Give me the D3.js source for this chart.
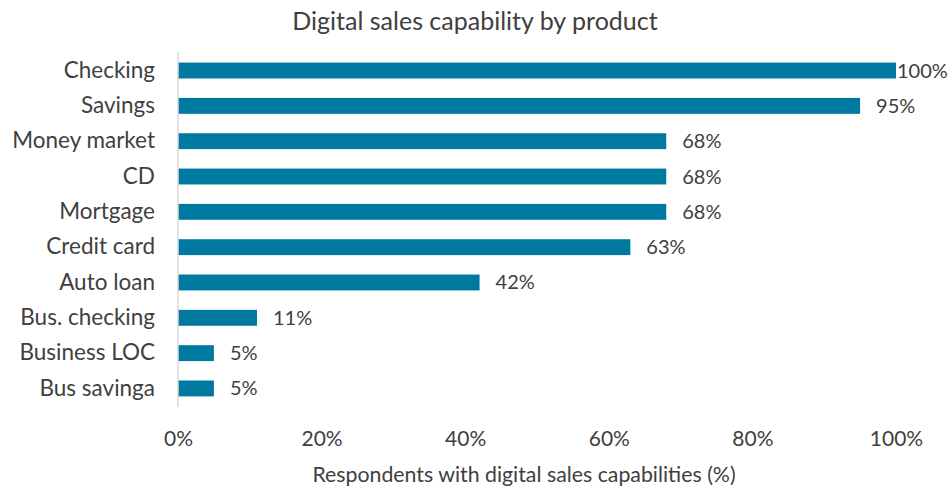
<!DOCTYPE html>
<html>
<head>
<meta charset="utf-8">
<script src="https://cdn.jsdelivr.net/npm/d3@7"></script>
<style>
  html, body { margin: 0; padding: 0; background: #fff; }
  svg { display: block; font-family: Lato, "Open Sans", sans-serif; }
</style>
</head>
<body>
<svg id="chart" width="950" height="489"></svg>
<script>
// Products and share of respondents offering digital sales for each
const categories = ["Checking", "Savings", "Money market", "CD", "Mortgage",
                    "Credit card", "Auto loan", "Bus. checking", "Business LOC", "Bus savinga"];
const values = [100, 95, 68, 68, 68, 63, 42, 11, 5, 5];
const tickValues = [0, 20, 40, 60, 80, 100];

const svg = d3.select("#chart");
const margin = { top: 52, right: 54, bottom: 82, left: 178 };
const width = 950 - margin.left - margin.right;
const height = 489 - margin.top - margin.bottom;

const g = svg.append("g").attr("transform", `translate(${margin.left},${margin.top})`);

const x = d3.scaleLinear().domain([0, 100]).range([0, width]);
const y = d3.scaleBand().domain(categories).range([0, height]).paddingInner(0.55).paddingOuter(0.3);

const textColor = "#404040";
const fontStack = "Lato, 'Open Sans', sans-serif";

// Title
svg.append("text")
  .attr("x", 475).attr("y", 30)
  .attr("text-anchor", "middle")
  .attr("fill", textColor)
  .style("font-size", "25px")
  .text("Digital sales capability by product");

// Bars
g.selectAll("rect.bar")
  .data(categories)
  .join("rect")
  .attr("class", "bar")
  .attr("x", x(0))
  .attr("y", d => y(d))
  .attr("width", (d, i) => x(values[i]) - x(0))
  .attr("height", y.bandwidth())
  .attr("fill", "#0079a1");

// Value labels
g.selectAll("text.val")
  .data(categories)
  .join("text")
  .attr("class", "val")
  .attr("x", (d, i) => x(values[i]) + (values[i] >= 100 ? 1 : 16))
  .attr("y", d => y(d) + y.bandwidth() / 2)
  .attr("dy", "0.35em")
  .attr("fill", textColor)
  .style("font-size", "20px")
  .text((d, i) => values[i] + "%");

// Category axis
const yAxis = g.append("g").call(d3.axisLeft(y).tickSize(0).tickPadding(23));
yAxis.select(".domain").remove();
yAxis.selectAll("text")
  .attr("fill", textColor)
  .style("font-size", "22.5px")
  .style("font-family", fontStack);

// Vertical baseline at 0%
g.append("line")
  .attr("x1", x(0)).attr("x2", x(0))
  .attr("y1", 0).attr("y2", height)
  .attr("stroke", "#d9d9d9")
  .attr("stroke-width", 1.5);

// Value axis
const xAxis = g.append("g")
  .attr("transform", `translate(0,${height})`)
  .call(d3.axisBottom(x).tickValues(tickValues).tickSize(0).tickPadding(24).tickFormat(d => d + "%"));
xAxis.select(".domain").remove();
xAxis.selectAll("text")
  .attr("fill", textColor)
  .style("font-size", "21px")
  .style("font-family", fontStack);

// Axis title
svg.append("text")
  .attr("x", 524).attr("y", 482)
  .attr("text-anchor", "middle")
  .attr("fill", textColor)
  .style("font-size", "21.3px")
  .text("Respondents with digital sales capabilities (%)");
</script>
</body>
</html>
